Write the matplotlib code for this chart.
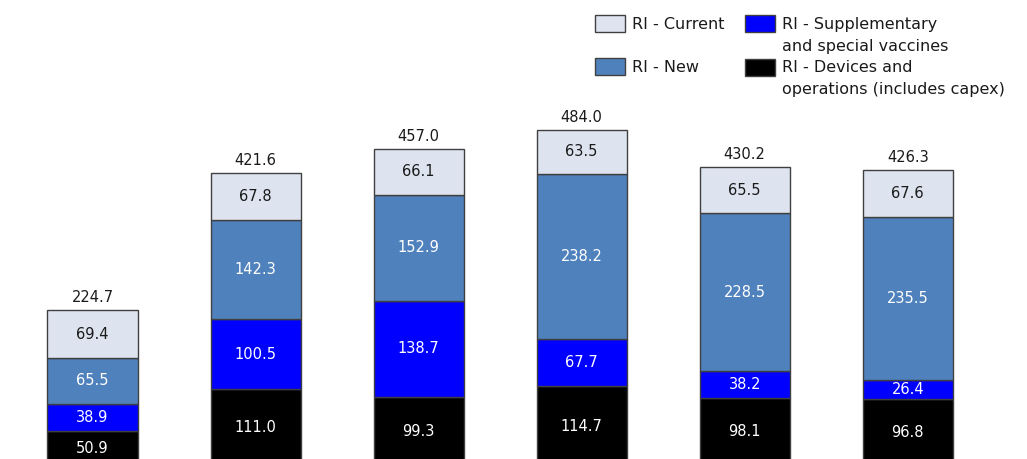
import matplotlib
matplotlib.use("Agg")
import matplotlib.pyplot as plt
from matplotlib.patches import Rectangle

# ---- data ----
bar_positions = [0, 1, 2, 3, 4, 5]
devices = [50.9, 111.0, 99.3, 114.7, 98.1, 96.8]
supplementary = [38.9, 100.5, 138.7, 67.7, 38.2, 26.4]
new = [65.5, 142.3, 152.9, 238.2, 228.5, 235.5]
current = [69.4, 67.8, 66.1, 63.5, 65.5, 67.6]
totals = [224.7, 421.6, 457.0, 484.0, 430.2, 426.3]

series_names = ["RI - Devices and\noperations (includes capex)",
                "RI - Supplementary\nand special vaccines",
                "RI - New",
                "RI - Current"]

# ---- style ----
colors = ["#000000", "#0000FF", "#4F81BD", "#DDE4EF"]
text_colors = ["white", "white", "white", "#1a1a1a"]
edge = "#404040"
W, H = 1027, 459

fig = plt.figure(figsize=(W / 100, H / 100), dpi=100)
ax = fig.add_axes([0, 0, 1, 1])
ax.set_xlim(-0.5673, 5.7313)
ax.set_ylim(10.1, 671.3)
ax.axis("off")

series = [devices, supplementary, new, current]
bottoms = [0.0] * len(bar_positions)
for vals, col, tcol in zip(series, colors, text_colors):
    ax.bar(bar_positions, vals, width=0.552, bottom=bottoms, color=col,
           edgecolor=edge, linewidth=1.0, zorder=2)
    for x, v, b in zip(bar_positions, vals, bottoms):
        ax.text(x, b + v / 2, f"{v:.1f}", ha="center", va="center",
                color=tcol, fontsize=10.5, zorder=3)
    bottoms = [b + v for b, v in zip(bottoms, vals)]

for x, top, t in zip(bar_positions, bottoms, totals):
    ax.annotate(f"{t:.1f}", (x, top), xytext=(0, 3.5), textcoords="offset points",
                ha="center", va="bottom", color="#1a1a1a", fontsize=10.5)

# ---- legend (manual layout, figure pixel coords) ----
def fx(px):
    return px / W

def fy(py):
    return 1 - py / H

legend_items = [
    (595, 15, 3, 24.5),   # current: patch x, patch top y, series index, text center y
    (595, 58, 2, 68.0),   # new
    (745, 15, 1, 24.5),   # supplementary
    (745, 59, 0, 67.5),   # devices
]
for px, py, idx, ty in legend_items:
    fig.add_artist(Rectangle((fx(px), fy(py + 17)), 30 / W, 17 / H,
                             transform=fig.transFigure, facecolor=colors[idx],
                             edgecolor=edge, linewidth=1.0))
    lines = series_names[idx].split("\n")
    for k, line in enumerate(lines):
        fig.text(fx(px + 37), fy(ty + 22 * k), line, ha="left", va="center",
                 fontsize=11.5, color="#1a1a1a")

fig.savefig("out.png", dpi=100)
